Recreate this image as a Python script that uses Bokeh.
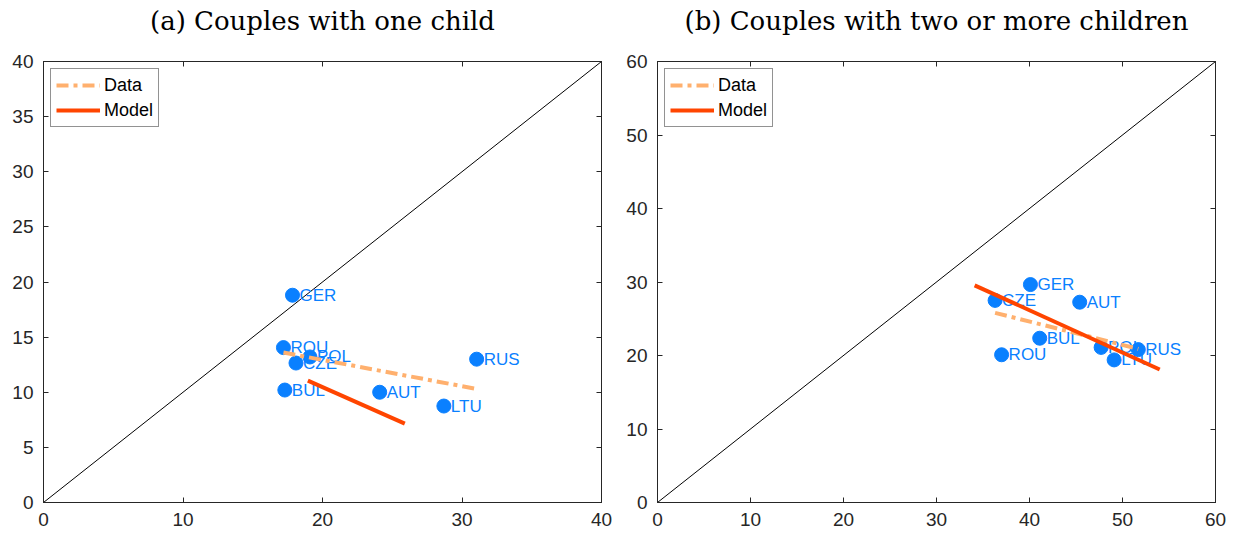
from bokeh.plotting import figure
from bokeh.layouts import row
from bokeh.models import (Range1d, LinearAxis, FixedTicker, ColumnDataSource,
                          CustomJSTickFormatter)
from bokeh.embed import file_html
from bokeh.resources import INLINE
from bokeh.core.properties import value

# ---------- data ----------
countries_a = ["GER", "ROU", "POL", "CZE", "BUL", "AUT", "LTU", "RUS"]
x_a = [17.85, 17.2, 19.1, 18.1, 17.3, 24.1, 28.7, 31.05]
y_a = [18.8, 14.05, 13.2, 12.65, 10.2, 10.0, 8.75, 13.0]
data_fit_x_a = [17.2, 31.05]
data_fit_y_a = [13.6, 10.3]
model_fit_x_a = [18.95, 25.9]
model_fit_y_a = [11.05, 7.15]
ticks_a = [0, 5, 10, 15, 20, 25, 30, 35, 40]
xticks_a = [0, 10, 20, 30, 40]

countries_b = ["GER", "CZE", "AUT", "BUL", "ROU", "POL", "RUS", "LTU"]
x_b = [40.1, 36.3, 45.4, 41.1, 37.0, 47.7, 51.7, 49.1]
y_b = [29.65, 27.5, 27.25, 22.35, 20.1, 21.1, 20.8, 19.4]
data_fit_x_b = [36.3, 51.7]
data_fit_y_b = [25.8, 20.9]
model_fit_x_b = [34.1, 54.0]
model_fit_y_b = [29.55, 18.1]
ticks_b = [0, 10, 20, 30, 40, 50, 60]

titles = ["(a) Couples with one child", "(b) Couples with two or more children"]

BLUE = "#0a80ff"
DATA_C = "#ffb06e"
MODEL_C = "#ff4500"
AX_C = "#262626"

FW, FH = 558, 441


def make_panel(title, countries, xs, ys, dfx, dfy, mfx, mfy, vmax, yticks, xticks,
               border_left, border_right):
    p = figure(frame_width=FW, frame_height=FH, output_backend="svg",
               toolbar_location=None, x_axis_location=None, y_axis_location=None,
               min_border_left=border_left, min_border_right=border_right,
               min_border_top=61, min_border_bottom=28)
    p.x_range = Range1d(0, vmax)
    p.y_range = Range1d(0, vmax)
    p.grid.visible = False
    p.outline_line_color = AX_C
    p.outline_line_width = 1
    p.background_fill_color = "white"

    def style(ax, ticks, labels, standoff):
        ax.ticker = FixedTicker(ticks=ticks)
        ax.minor_tick_line_color = None
        ax.major_tick_in = 5
        ax.major_tick_out = 0
        ax.major_tick_line_color = AX_C
        ax.axis_line_color = AX_C
        ax.major_label_text_font = "Liberation Sans"
        ax.major_label_text_color = AX_C
        ax.major_label_standoff = standoff
        if labels:
            ax.major_label_text_font_size = "19px"
        else:
            ax.formatter = CustomJSTickFormatter(code="return ''")

    bx = LinearAxis(); style(bx, xticks, True, 10); p.add_layout(bx, "below")
    ly = LinearAxis(); style(ly, yticks, True, 10); p.add_layout(ly, "left")
    ry = LinearAxis(); style(ry, yticks, False, 0); p.add_layout(ry, "right")
    # top axis: ticks only, carries the panel title as its axis label
    tx = LinearAxis(); style(tx, xticks, False, 0)
    tx.axis_label = title
    tx.axis_label_text_font = "DejaVu Serif"
    tx.axis_label_text_font_size = "26px"
    tx.axis_label_text_font_style = "normal"
    tx.axis_label_text_color = "black"
    tx.axis_label_standoff = 26
    p.add_layout(tx, "above")

    p.line([0, vmax], [0, vmax], line_color="black", line_width=1)

    src = ColumnDataSource(dict(x=xs, y=ys, name=countries))
    p.text(x="x", y="y", text="name", source=src, x_offset=7,
           text_baseline="middle", text_align="left",
           text_font=value("Liberation Sans"), text_font_size="17px",
           text_color=BLUE)
    p.scatter(x="x", y="y", source=src, size=14, fill_color=BLUE,
              line_color=BLUE)

    p.line(dfx, dfy, line_color=DATA_C, line_width=4, line_dash="12 5 4 5",
           legend_label="Data")
    p.line(mfx, mfy, line_color=MODEL_C, line_width=4, legend_label="Model")

    lg = p.legend[0]
    lg.location = "top_left"
    lg.margin = 7
    lg.padding = 5
    lg.spacing = 3
    lg.glyph_width = 44
    lg.glyph_height = 22
    lg.label_height = 22
    lg.label_standoff = 4
    lg.label_text_font = "Liberation Sans"
    lg.label_text_font_size = "18px"
    lg.label_text_color = "black"
    lg.border_line_color = "#262626"
    lg.border_line_width = 1
    lg.background_fill_alpha = 1
    return p


pa = make_panel(titles[0], countries_a, x_a, y_a, data_fit_x_a, data_fit_y_a,
                model_fit_x_a, model_fit_y_a, 40, ticks_a, xticks_a, 43, 20)
pb = make_panel(titles[1], countries_b, x_b, y_b, data_fit_x_b, data_fit_y_b,
                model_fit_x_b, model_fit_y_b, 60, ticks_b, ticks_b, 36, 12)

layout = row(pa, pb, spacing=0)
open("out.html", "w").write(file_html(layout, INLINE))
